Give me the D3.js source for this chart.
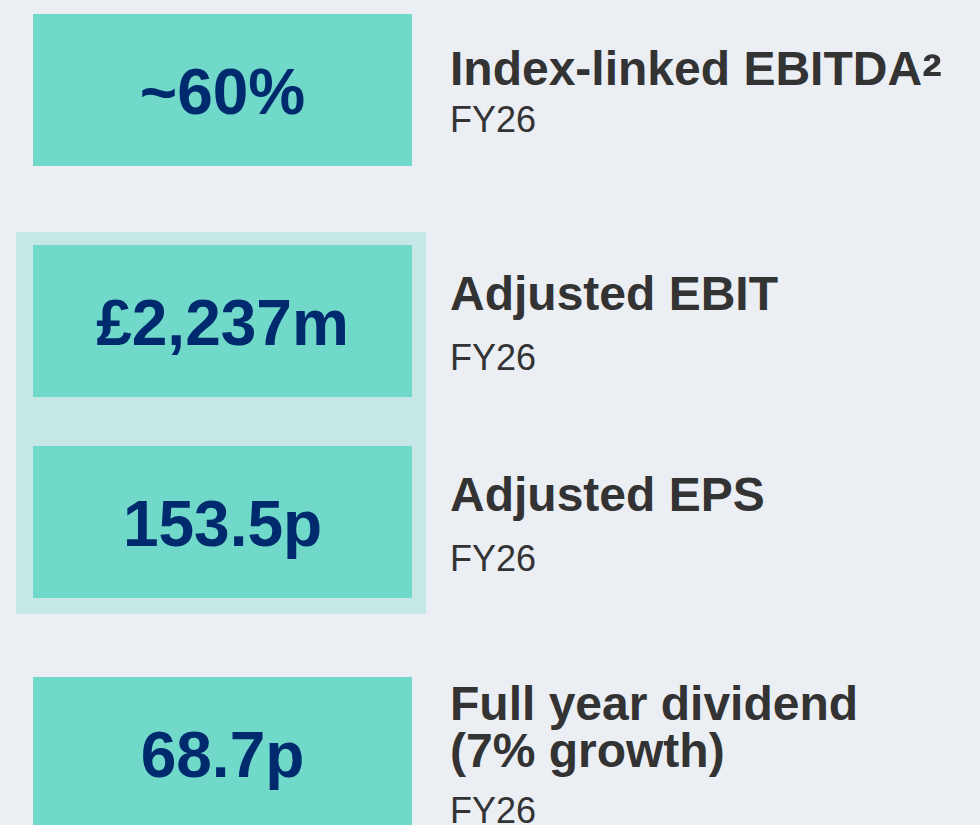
<!DOCTYPE html>
<meta charset="utf-8">
<style>

body {
  margin: 0;
  background: #ebeef3;
}

svg {
  display: block;
  font-family: "Liberation Sans", Arial, sans-serif;
}

.box rect {
  fill: #70d9c9;
}

.panel {
  fill: #c5e8e6;
}

.value {
  font-size: 64px;
  font-weight: bold;
  fill: #002a6e;
  text-anchor: middle;
}

.heading {
  font-size: 48px;
  font-weight: bold;
  fill: #333;
}

.sub {
  font-size: 36px;
  fill: #333;
}

</style>
<script src="https://cdn.jsdelivr.net/npm/d3@7"></script>
<body>

<script>

// figures shown on the slide
var values = ["~60%", "£2,237m", "153.5p", "68.7p"];
var headings = ["Index-linked EBITDA²", "Adjusted EBIT", "Adjusted EPS", "Full year dividend\n(7% growth)"];
var periods = ["FY26", "FY26", "FY26", "FY26"];
var grouped = [false, true, true, false]; // EBIT + EPS sit on a shaded panel

var width = 980,
    height = 825;

var boxH = 152,
    gapOut = 79,
    gapIn = 49,
    lineH = 47,
    capH = 34;

// gap from last heading line to the FY line (slide isn't consistent)
var subGap = [47, 60, 60, 56];

var rows = values.map(function(v, i) {
  return {
    i: i,
    value: v,
    lines: headings[i].split("\n"),
    period: periods[i],
    grouped: grouped[i]
  };
});

// stack the rows, tighter when two neighbours share the panel
var tops = [];
rows.forEach(function(d, i) {
  if (i == 0) {
    tops.push(14);
  } else {
    var gap = (d.grouped && rows[i - 1].grouped) ? gapIn : gapOut;
    tops.push(tops[i - 1] + boxH + gap);
  }
});

var yScale = d3.scaleOrdinal()
    .domain(rows.map(function(d) { return d.i; }))
    .range(tops);

var xScale = d3.scaleLinear()
    .domain([0, 1])
    .range([33, 412]);

var svg = d3.select("body").append("svg")
    .attr("width", width)
    .attr("height", height);

// shaded panel behind the grouped rows
var inGroup = rows.filter(function(d) { return d.grouped; });
var gTop = d3.min(inGroup, function(d) { return yScale(d.i); }),
    gBot = d3.max(inGroup, function(d) { return yScale(d.i) + boxH; });

svg.append("rect")
    .attr("class", "panel")
    .attr("x", xScale(0) - 17)
    .attr("y", gTop - 13)
    .attr("width", xScale(1) - xScale(0) + 31)
    .attr("height", gBot - gTop + 29);

var row = svg.selectAll("g.box")
    .data(rows)
    .enter().append("g")
    .attr("class", "box")
    .attr("transform", function(d) { return "translate(0," + yScale(d.i) + ")"; });

row.append("rect")
    .attr("x", xScale(0))
    .attr("y", 0)
    .attr("width", xScale(1) - xScale(0))
    .attr("height", boxH);

row.append("text")
    .attr("class", "value")
    .attr("x", xScale(0.5))
    .attr("y", boxH / 2 + 24)
    .text(function(d) { return d.value; });

// label block is centred on the box
function headTop(d) {
  var h = capH + (d.lines.length - 1) * lineH + subGap[d.i];
  return boxH / 2 - h / 2 + capH + 1.5;
}

var head = row.append("text")
    .attr("class", "heading")
    .attr("x", 450)
    .attr("y", headTop);

head.selectAll("tspan.line")
    .data(function(d) { return d.lines; })
    .enter().append("tspan")
    .attr("class", "line")
    .attr("x", 450)
    .attr("dy", function(d, i) { return i == 0 ? 0 : lineH; })
    .each(function(t) {
      // the ² glyph is tiny in this font, so blow it up a bit
      var sel = d3.select(this);
      var k = t.indexOf("²");
      if (k < 0) {
        sel.text(t);
        return;
      }
      sel.append("tspan").text(t.slice(0, k));
      sel.append("tspan")
          .style("font-size", "60px")
          .attr("dy", 11)
          .text("²");
    });

row.append("text")
    .attr("class", "sub")
    .attr("x", 450)
    .attr("y", function(d) {
      return headTop(d) + (d.lines.length - 1) * lineH + subGap[d.i];
    })
    .text(function(d) { return d.period; });

</script>

</body>
